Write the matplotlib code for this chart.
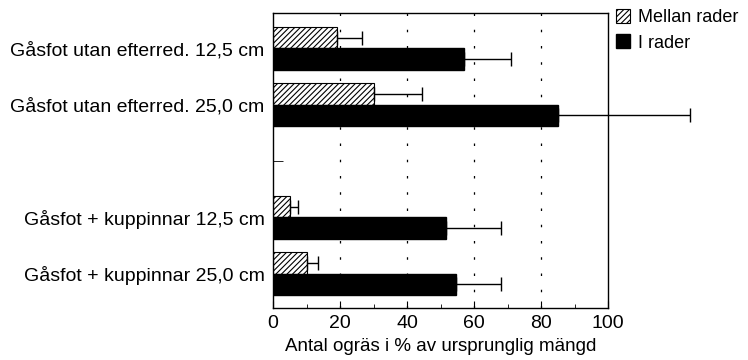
import numpy as np
import matplotlib.pyplot as plt
from matplotlib.patches import Patch
from matplotlib.ticker import MultipleLocator

plt.rcParams['font.family'] = ['Liberation Sans', 'DejaVu Sans']
plt.rcParams['hatch.linewidth'] = 0.8

# Data
labels = ['Gåsfot utan efterred. 12,5 cm', 'Gåsfot utan efterred. 25,0 cm',
          'Gåsfot + kuppinnar 12,5 cm', 'Gåsfot + kuppinnar 25,0 cm']
slots = [0, 1, 3, 4]          # slot 2 is left empty
mellan = [19, 30, 5, 10]
mellan_err = [7.5, 14.5, 2.5, 3.5]
i_rader = [57, 85, 51.5, 54.5]
i_rader_err = [14, 39.5, 16.5, 13.5]

fig = plt.figure(figsize=(7.48, 3.6), dpi=100)
ax = fig.add_axes([0.365, 0.1444, 0.448, 0.8195])

y = np.array(slots, dtype=float)
h = 0.38
fs = 14

ax.barh(y - h / 2, mellan, height=h, color='white', edgecolor='black',
        hatch='//////', linewidth=0.8)
ax.barh(y + h / 2, i_rader, height=h, color='black', edgecolor='black')

for vals, errs, off in [(mellan, mellan_err, -h / 2), (i_rader, i_rader_err, h / 2)]:
    eb = ax.errorbar(vals, y + off, xerr=[np.zeros(4), errs], fmt='none',
                     ecolor='black', elinewidth=1, capsize=5, capthick=1)
    for art in eb.lines[1] + eb.lines[2]:
        art.set_clip_on(False)

# dotted grid
for gx in [20, 40, 60, 80]:
    ax.axvline(gx, color='black', lw=0.9, ls=(0, (2, 11)), zorder=0)

ax.set_xlim(0, 100)
ax.set_ylim(4.61, -0.63)
ax.xaxis.set_major_locator(MultipleLocator(20))
ax.xaxis.set_minor_locator(MultipleLocator(10))
ax.tick_params(axis='x', which='major', direction='in', length=5, labelsize=fs, pad=5)
ax.tick_params(axis='x', which='minor', direction='in', length=3)
ax.set_yticks(y)
ax.set_yticklabels(labels, fontsize=fs)
ax.tick_params(axis='y', which='major', length=0, pad=6)
ax.set_yticks([2], minor=True)
ax.tick_params(axis='y', which='minor', direction='in', length=7)
for s in ax.spines.values():
    s.set_linewidth(1)
ax.set_xlabel('Antal ogräs i % av ursprunglig mängd', fontsize=13.5, labelpad=4)

handles = [Patch(facecolor='white', edgecolor='black', hatch='//////', lw=0.8,
                 label='Mellan rader'),
           Patch(facecolor='black', edgecolor='black', label='I rader')]
fig.legend(handles=handles, loc='upper left', bbox_to_anchor=(0.816, 0.99),
           frameon=False, fontsize=13, handlelength=0.8, handleheight=0.8,
           handletextpad=0.45, labelspacing=0.45, borderaxespad=0.1,
           borderpad=0.2)

fig.savefig('out.png', dpi=100)
